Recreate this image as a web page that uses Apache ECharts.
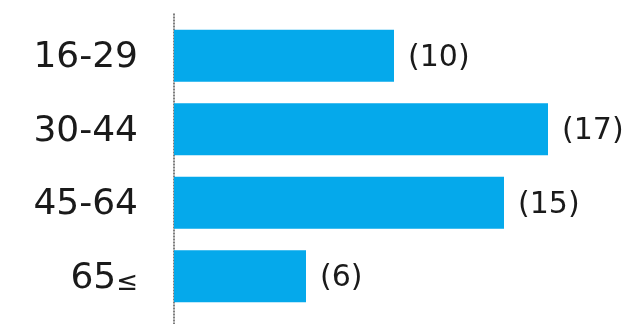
<!DOCTYPE html>
<html><head><meta charset="utf-8">
<script src="https://cdn.jsdelivr.net/npm/echarts@6/dist/echarts.min.js"></script>
<style>html,body{margin:0;padding:0;background:#fff}#c{width:637px;height:324px}</style>
</head><body><div id="c"></div>
<script>
var categories = ['16-29', '30-44', '45-64', '65≤'];
var values = [10, 17, 15, 6];

var chart = echarts.init(document.getElementById('c'), null, {renderer: 'canvas'});
chart.setOption({
  animation: false,
  backgroundColor: '#ffffff',
  grid: [
    {left: 174, right: 23, top: 19, bottom: 11, containLabel: false},
    {left: 174, right: 23, top: 12, bottom: 0, containLabel: false}
  ],
  xAxis: [
    {type: 'value', gridIndex: 0, min: 0, max: 20, show: false},
    {type: 'value', gridIndex: 1, min: 0, max: 20, show: false}
  ],
  yAxis: [
    {
      type: 'category', gridIndex: 0, data: categories, inverse: true,
      axisLine: {show: false}, axisTick: {show: false}, splitLine: {show: false},
      axisLabel: {
        margin: 36, color: '#1a1a1a',
        fontFamily: 'DejaVu Sans', fontSize: 36,
        formatter: function (v) {
          if (v.indexOf('≤') >= 0) return '{a|' + v.replace('≤', '') + '}{b|≤}';
          return '{a|' + v + '}';
        },
        rich: {
          a: {fontFamily: 'DejaVu Sans', fontSize: 36, color: '#1a1a1a', verticalAlign: 'bottom', lineHeight: 40},
          b: {fontFamily: 'DejaVu Sans', fontSize: 26, color: '#1a1a1a', verticalAlign: 'bottom', lineHeight: 34}
        }
      }
    },
    {
      type: 'value', gridIndex: 1, min: 0, max: 1,
      axisLine: {show: true, lineStyle: {color: '#555', width: 1.5, type: [1, 2]}},
      axisTick: {show: false}, axisLabel: {show: false}, splitLine: {show: false}
    }
  ],
  series: [{
    type: 'bar',
    xAxisIndex: 0, yAxisIndex: 0,
    data: values,
    barWidth: 52,
    itemStyle: {color: '#05a9eb'},
    label: {
      show: true, position: 'right', distance: 14, offset: [0, 2],
      formatter: function (p) { return '(' + p.value + ')'; },
      fontFamily: 'DejaVu Sans', fontSize: 30, color: '#1a1a1a'
    }
  }]
});
</script>
</body></html>
